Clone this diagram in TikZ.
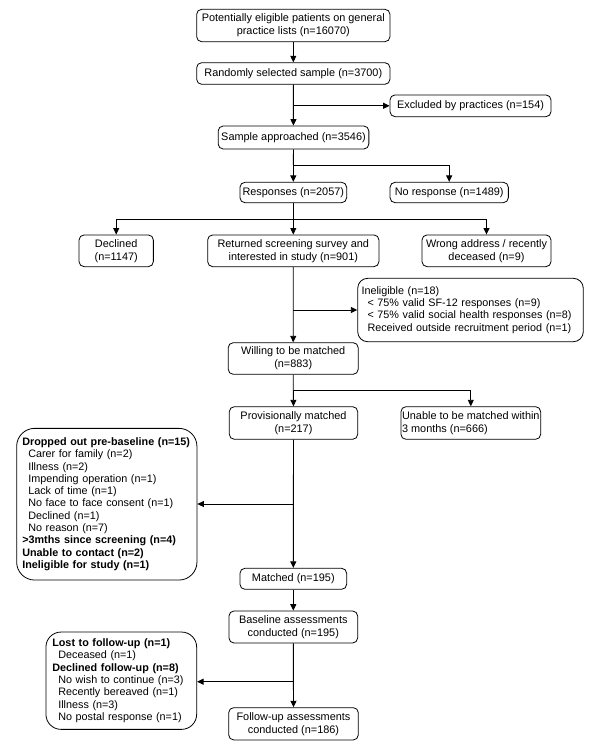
\documentclass[tikz,border=0pt]{standalone}
\usepackage{fontspec}
\setmainfont{Liberation Sans}
\usetikzlibrary{arrows.meta}
\tikzset{
  box/.style={draw, line width=0.8pt, rounded corners=5pt, align=center, inner sep=0pt,
    font=\fontsize{10.9}{13.2}\selectfont},
  listbox/.style={draw, line width=0.8pt, align=left, inner sep=0pt,
    font=\fontsize{10.8}{12.3}\selectfont},
  conn/.style={line width=0.9pt},
  arr/.style={conn, -{Triangle[length=6.5pt,width=6pt]}}
}
\begin{document}
\begin{tikzpicture}[x=1pt,y=-1pt]
\useasboundingbox (0,0) rectangle (600,752);
% nodes
\node[box, minimum width=193.3pt, minimum height=32.4pt] (n1) at (293.3,25.5) {Potentially eligible patients on general\\practice lists (n=16070)};
\node[box, minimum width=193.3pt, minimum height=21.6pt] (n2) at (293.3,73.5) {Randomly selected sample (n=3700)};
\node[box, minimum width=161pt, minimum height=21.7pt] (excl) at (470.5,105.8) {Excluded by practices (n=154)};
\node[box, minimum width=150.7pt, minimum height=23pt] (samp) at (293.5,137.5) {Sample approached (n=3546)};
\node[box, minimum width=106.7pt, minimum height=20.4pt] (resp) at (293.3,192.5) {Responses (n=2057)};
\node[box, minimum width=118.3pt, minimum height=20.4pt] (nores) at (449.2,192.5) {No response (n=1489)};
\node[box, minimum width=74.3pt, minimum height=31.7pt] (decl) at (116.2,250.8) {Declined\\(n=1147)};
\node[box, minimum width=171.3pt, minimum height=31.7pt] (ret) at (293.3,250.8) {Returned screening survey and\\interested in study (n=901)};
\node[box, minimum width=129pt, minimum height=31.7pt] (wrong) at (486.5,250.8) {Wrong address / recently\\deceased (n=9)};
\node[listbox, rounded corners=10pt, minimum width=225.6pt, minimum height=63.4pt, text width=218pt] (inel) at (470.5,310)
  {Ineligible (n=18)\\\hspace*{6pt}{<} 75\% valid SF-12 responses (n=9)\\\hspace*{6pt}{<} 75\% valid social health responses (n=8)\\\hspace*{6pt}Received outside recruitment period (n=1)\\[3pt]};
\node[box, minimum width=130pt, minimum height=31.6pt] (will) at (293.2,358.5) {Willing to be matched\\(n=883)};
\node[box, minimum width=128.4pt, minimum height=32.6pt] (prov) at (293.5,423) {Provisionally matched\\(n=217)};
\node[box, align=left, minimum width=139.7pt, minimum height=32.6pt] (unable) at (470.8,423) {Unable to be matched within\\3 months (n=666)};
\node[listbox, rounded corners=18pt, minimum width=180.3pt, minimum height=151.7pt, text width=169pt] (drop) at (106.8,504.2)
  {\textbf{Dropped out pre-baseline (n=15)}\\
   \hspace*{6pt}Carer for family (n=2)\\
   \hspace*{6pt}Illness (n=2)\\
   \hspace*{6pt}Impending operation (n=1)\\
   \hspace*{6pt}Lack of time (n=1)\\
   \hspace*{6pt}No face to face consent (n=1)\\
   \hspace*{6pt}Declined (n=1)\\
   \hspace*{6pt}No reason (n=7)\\
   \textbf{>3mths since screening (n=4)}\\
   \textbf{Unable to contact (n=2)}\\
   \textbf{Ineligible for study (n=1)}};
\node[box, minimum width=106.7pt, minimum height=21pt] (match) at (293.3,578.8) {Matched (n=195)};
\node[box, minimum width=128.7pt, minimum height=32pt] (base) at (293.3,627) {Baseline assessments\\conducted (n=195)};
\node[listbox, rounded corners=15pt, minimum width=150.7pt, minimum height=97.3pt, text width=138pt] (lost) at (121.3,680.7)
  {\textbf{Lost to follow-up (n=1)}\\
   \hspace*{6pt}Deceased (n=1)\\
   \textbf{Declined follow-up (n=8)}\\
   \hspace*{6pt}No wish to continue (n=3)\\
   \hspace*{6pt}Recently bereaved (n=1)\\
   \hspace*{6pt}Illness (n=3)\\
   \hspace*{6pt}No postal response (n=1)};
\node[box, minimum width=129.6pt, minimum height=32.3pt] (fu) at (293.5,723.8) {Follow-up assessments\\conducted (n=186)};
% junction coordinates
\coordinate (j1) at (293.3,165);
\coordinate (j2) at (293.3,219.3);
\coordinate (j3) at (293.3,390.7);
\coordinate (j4) at (293.3,504);
\coordinate (j5) at (293.3,681.7);
% connectors
\draw[arr] (n1) -- (n2);
\draw[arr] (n2) -- (samp);
\draw[arr] (n2.south |- excl.west) -- (excl.west);
\draw[conn] (samp.south) -- (j1);
\draw[arr] (j1) -- (resp.north);
\draw[arr] (j1) -| (nores.north);
\draw[conn] (resp.south) -- (j2);
\draw[arr] (j2) -- (ret.north);
\draw[arr] (j2) -| (decl.north);
\draw[arr] (j2) -| (wrong.north);
\draw[arr] (ret) -- (will);
\draw[arr] (ret.south |- inel.west) -- (inel.west);
\draw[conn] (will.south) -- (j3);
\draw[arr] (j3) -- (prov.north);
\draw[arr] (j3) -| (unable.north);
\draw[arr] (prov.south) -- (match.north);
\draw[arr] (j4) -- (j4 -| drop.east);
\draw[arr] (match) -- (base);
\draw[arr] (base.south) -- (fu.north);
\draw[arr] (j5) -- (j5 -| lost.east);
\end{tikzpicture}
\end{document}
